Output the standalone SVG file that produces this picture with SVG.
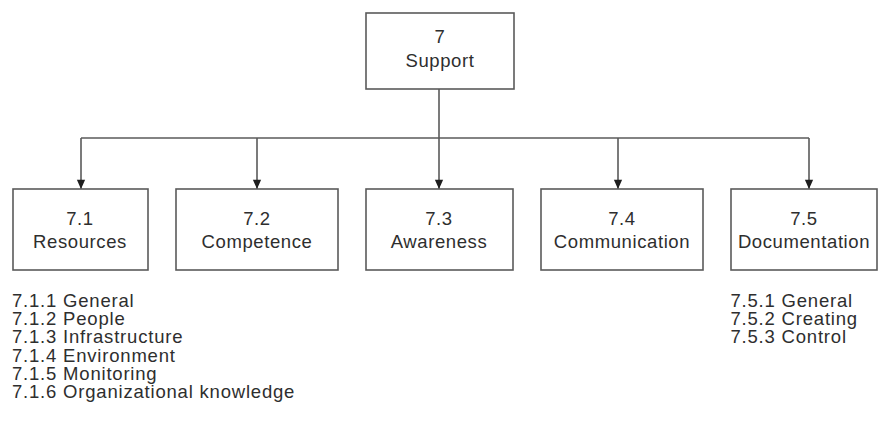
<svg xmlns="http://www.w3.org/2000/svg" width="878" height="432" viewBox="0 0 878 432">
  <style>
    .box { fill: #ffffff; stroke: #5a5a5a; stroke-width: 1.6; }
    .lbl { font-family: "Liberation Sans", Arial, sans-serif; font-size: 18.5px; letter-spacing: 0.6px; fill: #2e2e2e; text-anchor: middle; }
    .list { font-family: "Liberation Sans", Arial, sans-serif; font-size: 18.5px; letter-spacing: 0.8px; fill: #2e2e2e; }
    .conn { fill: none; stroke: #5a5a5a; stroke-width: 1.6; }
  </style>
  <defs>
    <marker id="arrow" viewBox="0 0 10 12" refX="10" refY="6" markerWidth="10" markerHeight="11" markerUnits="userSpaceOnUse" orient="auto">
      <path d="M0,1.5 L10,6 L0,10.5 Z" fill="#1e1e1e"/>
    </marker>
  </defs>
  <rect width="878" height="432" fill="#ffffff"/>

  <!-- connectors: trunk, bus and drops to each clause -->
  <g id="connectors">
    <line class="conn" x1="439" y1="89" x2="439" y2="138"/>
    <line class="conn" x1="81" y1="138" x2="809" y2="138"/>
    <line class="conn" x1="81" y1="138" x2="81" y2="189" marker-end="url(#arrow)"/>
    <line class="conn" x1="257" y1="138" x2="257" y2="189" marker-end="url(#arrow)"/>
    <line class="conn" x1="439" y1="138" x2="439" y2="189" marker-end="url(#arrow)"/>
    <line class="conn" x1="618" y1="138" x2="618" y2="189" marker-end="url(#arrow)"/>
    <line class="conn" x1="809" y1="138" x2="809" y2="189" marker-end="url(#arrow)"/>
  </g>

  <g id="n7">
    <rect class="box" x="366" y="13" width="148" height="76"/>
    <text class="lbl" x="440" y="43">7</text>
    <text class="lbl" x="440" y="67">Support</text>
  </g>

  <g id="n7-1">
    <rect class="box" x="13" y="189" width="135" height="81"/>
    <text class="lbl" x="80" y="225">7.1</text>
    <text class="lbl" x="80" y="248">Resources</text>
  </g>

  <g id="n7-2">
    <rect class="box" x="176" y="189" width="162" height="81"/>
    <text class="lbl" x="257" y="225">7.2</text>
    <text class="lbl" x="257" y="248">Competence</text>
  </g>

  <g id="n7-3">
    <rect class="box" x="366" y="189" width="147" height="81"/>
    <text class="lbl" x="439" y="225">7.3</text>
    <text class="lbl" x="439" y="248">Awareness</text>
  </g>

  <g id="n7-4">
    <rect class="box" x="541" y="189" width="162" height="81"/>
    <text class="lbl" x="622" y="225">7.4</text>
    <text class="lbl" x="622" y="248">Communication</text>
  </g>

  <g id="n7-5">
    <rect class="box" x="731" y="189" width="146" height="81"/>
    <text class="lbl" x="804" y="225">7.5</text>
    <text class="lbl" x="804" y="248">Documentation</text>
  </g>

  <g id="list7-1">
    <text class="list" x="12" y="307">7.1.1 General</text>
    <text class="list" x="12" y="325.2">7.1.2 People</text>
    <text class="list" x="12" y="343.4">7.1.3 Infrastructure</text>
    <text class="list" x="12" y="361.6">7.1.4 Environment</text>
    <text class="list" x="12" y="379.8">7.1.5 Monitoring</text>
    <text class="list" x="12" y="398">7.1.6 Organizational knowledge</text>
  </g>

  <g id="list7-5">
    <text class="list" x="730.5" y="307">7.5.1 General</text>
    <text class="list" x="730.5" y="324.8">7.5.2 Creating</text>
    <text class="list" x="730.5" y="342.6">7.5.3 Control</text>
  </g>
</svg>
